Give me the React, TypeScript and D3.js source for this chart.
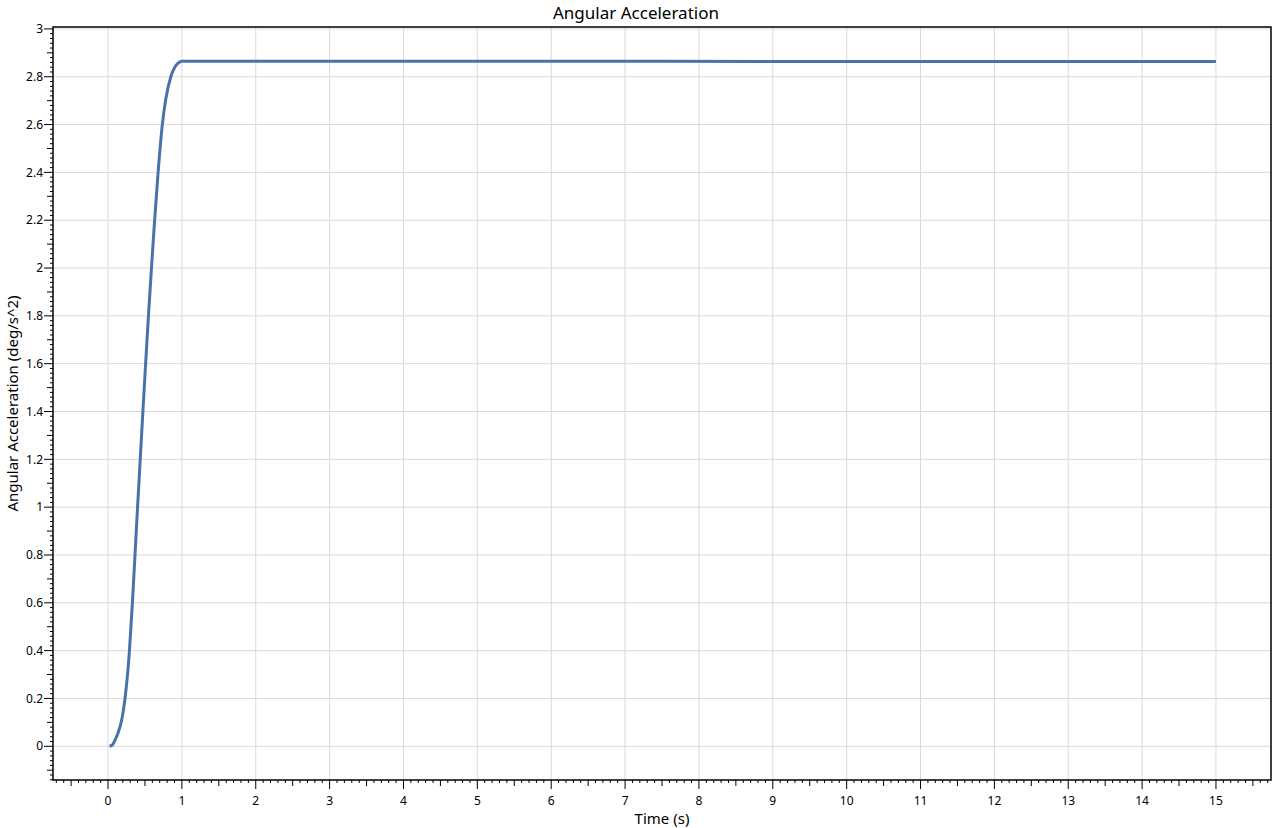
import * as d3 from "d3";

// time (s) and angular acceleration (deg/s^2)
const timeS = [0.02, 0.06, 0.095, 0.14, 0.185, 0.23, 0.29, 0.33, 0.365, 0.4, 0.436, 0.472, 0.509, 0.547, 0.588, 0.631, 0.678, 0.735, 0.78, 0.85, 0.907, 0.965, 1.0, 2, 5, 10, 15];
const accel = [0, 0.006, 0.026, 0.06, 0.11, 0.2, 0.4, 0.6, 0.8, 1.0, 1.2, 1.4, 1.6, 1.8, 2.0, 2.2, 2.4, 2.6, 2.703, 2.8, 2.842, 2.861, 2.865, 2.865, 2.865, 2.864, 2.864];

const xTicks = d3.range(0, 16);
const yTicks = [0, 0.2, 0.4, 0.6, 0.8, 1, 1.2, 1.4, 1.6, 1.8, 2, 2.2, 2.4, 2.6, 2.8, 3];

const W = 1272;
const H = 828;
const margin = { top: 27, right: 1, bottom: 48, left: 53 };
const font = "'Noto Sans', 'Open Sans', sans-serif";

function App() {
  const x = d3
    .scaleLinear()
    .domain([-0.745, 15.745])
    .range([margin.left, W - margin.right]);
  const y = d3
    .scaleLinear()
    .domain([-0.141, 3.008])
    .range([H - margin.bottom, margin.top]);

  const points = timeS.map((t, i) => [t, accel[i]] as [number, number]);
  const line = d3
    .line<[number, number]>()
    .x((d) => x(d[0]))
    .y((d) => y(d[1]))
    .curve(d3.curveMonotoneX);

  const bottom = H - margin.bottom;
  const left = margin.left;

  // minor ticks every 0.1 on x, every 0.02 on y
  const xMinor = d3.range(-7, 158).map((i) => i / 10);
  const yMinor = d3.range(-7, 151).map((i) => i / 50);

  return (
    <svg
      width={W}
      height={H}
      style={{ position: "absolute", left: 0, top: 0, background: "#fff" }}
      fontFamily={font}
    >
      {/* grid */}
      {xTicks.map((t) => (
        <line key={"gx" + t} x1={x(t)} x2={x(t)} y1={margin.top} y2={bottom} stroke="#d9d9d9" strokeWidth={1} />
      ))}
      {yTicks.map((t) => (
        <line key={"gy" + t} x1={left} x2={W - margin.right} y1={y(t)} y2={y(t)} stroke="#d9d9d9" strokeWidth={1} />
      ))}

      {/* series */}
      <path d={line(points) ?? ""} fill="none" stroke="#4872aa" strokeWidth={3} strokeLinejoin="round" />

      {/* frame */}
      <rect
        x={left}
        y={margin.top}
        width={W - margin.right - left}
        height={bottom - margin.top}
        fill="none"
        stroke="#000"
        strokeWidth={1.5}
      />

      {/* x ticks */}
      {xMinor.map((t) => {
        const r = Math.round(t * 10);
        const len = r % 10 === 0 ? 9 : r % 5 === 0 ? 6 : 3;
        return <line key={"xt" + r} x1={x(t)} x2={x(t)} y1={bottom} y2={bottom + len} stroke="#000" strokeWidth={1} />;
      })}
      {xTicks.map((t) => (
        <text key={"xl" + t} x={x(t)} y={bottom + 25} textAnchor="middle" fontSize={12} fill="#000">
          {t}
        </text>
      ))}

      {/* y ticks */}
      {yMinor.map((v) => {
        const r = Math.round(v * 50);
        const len = r % 10 === 0 ? 9 : r % 5 === 0 ? 6 : 3;
        return <line key={"yt" + r} x1={left - len} x2={left} y1={y(v)} y2={y(v)} stroke="#000" strokeWidth={1} />;
      })}
      {yTicks.map((v) => (
        <text key={"yl" + v} x={left - 10} y={y(v)} dy="0.35em" textAnchor="end" fontSize={12} fill="#000">
          {d3.format("~g")(v)}
        </text>
      ))}

      {/* titles */}
      <text x={W / 2} y={19} textAnchor="middle" fontSize={17} fill="#000">
        Angular Acceleration
      </text>
      <text x={(left + W - margin.right) / 2} y={824} textAnchor="middle" fontSize={15} fill="#000">
        Time (s)
      </text>
      <text
        transform={`translate(18,${(margin.top + bottom) / 2}) rotate(-90)`}
        textAnchor="middle"
        fontSize={15}
        fill="#000"
      >
        Angular Acceleration (deg/s^2)
      </text>
    </svg>
  );
}

export default App;
